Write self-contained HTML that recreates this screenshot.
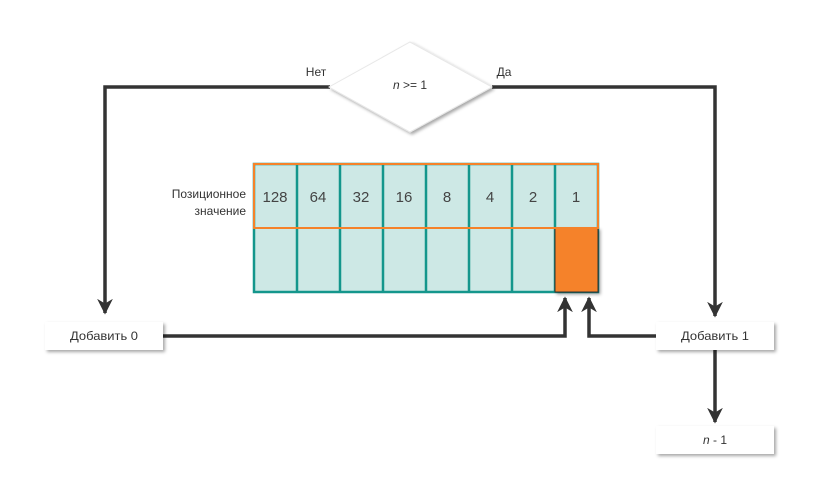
<!DOCTYPE html>
<html><head><meta charset="utf-8"><style>
body{margin:0;background:#fff;}
svg{display:block;font-family:"Liberation Sans",sans-serif;}
</style></head><body>
<svg width="823" height="487" viewBox="0 0 823 487" xmlns="http://www.w3.org/2000/svg">
<defs>
<filter id="sh" x="-20%" y="-20%" width="150%" height="160%"><feDropShadow dx="2" dy="2" stdDeviation="1.5" flood-color="#000" flood-opacity="0.35"/></filter>
<marker id="ar" viewBox="0 0 10 10" refX="9" refY="5" markerWidth="4.5" markerHeight="4.5" orient="auto-start-reverse"><path d="M0,0 L10,5 L0,10 L3,5 z" fill="#333"/></marker>
</defs>
<g stroke="#333" stroke-width="3.5" fill="none">
<polyline points="330,87 105,87 105,313" marker-end="url(#ar)"/>
<polyline points="492,87 715,87 715,316" marker-end="url(#ar)"/>
<polyline points="163,336 565,336 565,298" marker-end="url(#ar)"/>
<polyline points="656,336 589,336 589,298" marker-end="url(#ar)"/>
<polyline points="715,350 715,422" marker-end="url(#ar)"/>
</g>
<polygon points="410,42 492,87 410,132 329,87" fill="#fff" stroke="#e8e8e8" stroke-width="1" filter="url(#sh)"/>
<text x="410" y="89" font-size="12" text-anchor="middle" fill="#333"><tspan font-style="italic">n</tspan> &gt;= 1</text>
<text x="316" y="76" font-size="12" text-anchor="middle" fill="#333">Нет</text>
<text x="504" y="76" font-size="12" text-anchor="middle" fill="#333">Да</text>
<text x="246" y="198" font-size="12" text-anchor="end" fill="#333">Позиционное</text>
<text x="246" y="215" font-size="12" text-anchor="end" fill="#333">значение</text>
<rect x="254" y="164" width="344" height="128" stroke="#14968c" stroke-width="2.5" fill="#cde8e5"/>
<g stroke="#14968c" stroke-width="2.5">
<line x1="297" y1="164" x2="297" y2="292"/><line x1="340" y1="164" x2="340" y2="292"/>
<line x1="383" y1="164" x2="383" y2="292"/><line x1="426" y1="164" x2="426" y2="292"/>
<line x1="469" y1="164" x2="469" y2="292"/><line x1="512" y1="164" x2="512" y2="292"/>
<line x1="555" y1="164" x2="555" y2="292"/>
</g>
<rect x="555" y="228" width="43" height="64" fill="#f5822a" stroke="#333" stroke-width="1" filter="url(#sh)"/>
<rect x="254" y="164" width="344" height="64" fill="none" stroke="#f5822a" stroke-width="2"/>
<g font-size="15" fill="#444" text-anchor="middle">
<text x="275" y="202">128</text><text x="318" y="202">64</text><text x="361" y="202">32</text>
<text x="404" y="202">16</text><text x="447" y="202">8</text><text x="490" y="202">4</text>
<text x="533" y="202">2</text><text x="576" y="202">1</text>
</g>
<rect x="45" y="322" width="118" height="28" fill="#fff" filter="url(#sh)"/>
<text x="104" y="340" font-size="12" text-anchor="middle" fill="#333" textLength="68" lengthAdjust="spacingAndGlyphs">Добавить 0</text>
<rect x="656" y="322" width="118" height="28" fill="#fff" filter="url(#sh)"/>
<text x="715" y="340" font-size="12" text-anchor="middle" fill="#333" textLength="68" lengthAdjust="spacingAndGlyphs">Добавить 1</text>
<rect x="656" y="426" width="118" height="28" fill="#fff" filter="url(#sh)"/>
<text x="715" y="444" font-size="12" text-anchor="middle" fill="#333"><tspan font-style="italic">n</tspan> - 1</text>
</svg>
</body></html>
